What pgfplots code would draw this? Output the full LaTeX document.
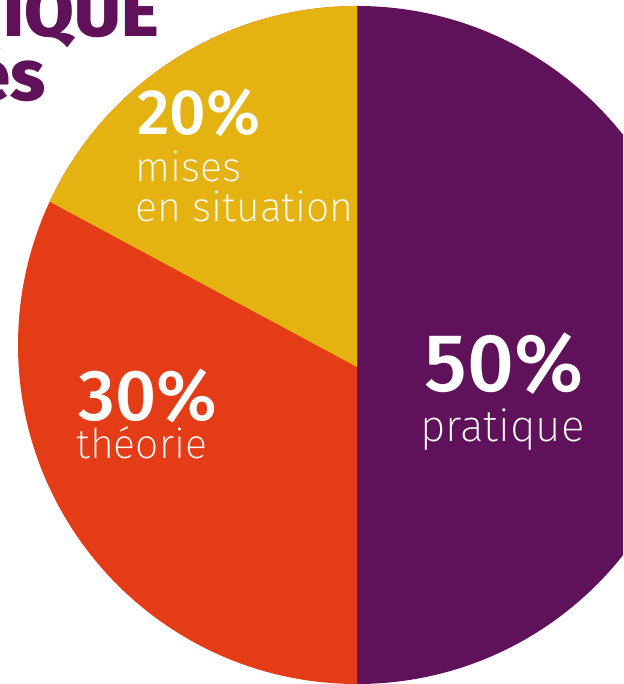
\documentclass[border=0pt]{standalone}
\usepackage{fontspec}
\setmainfont{Fira Sans}
\newfontfamily\lightfont{Fira Sans ExtraLight}
\newfontfamily\medfont{Fira Sans Medium}
\newfontfamily\boldfont{Fira Sans ExtraBold}
\usepackage{pgfplots}
\usepackage{pgfplotstable}
\pgfplotsset{compat=1.18}
\definecolor{cpurple}{RGB}{95,18,89}
\definecolor{corange}{RGB}{228,60,22}
\definecolor{cyellow}{RGB}{228,178,17}

% share (percent) and the angles of each sector as drawn
\pgfplotstableread{
part pct from to
pratique 50 90 -90
theorie 30 -90 -270
mises 20 155 90
}\pietable
\pgfplotstablegetelem{0}{from}\of\pietable \edef\pAa{\pgfplotsretval}
\pgfplotstablegetelem{0}{to}\of\pietable \edef\pAb{\pgfplotsretval}
\pgfplotstablegetelem{1}{from}\of\pietable \edef\pBa{\pgfplotsretval}
\pgfplotstablegetelem{1}{to}\of\pietable \edef\pBb{\pgfplotsretval}
\pgfplotstablegetelem{2}{from}\of\pietable \edef\pCa{\pgfplotsretval}
\pgfplotstablegetelem{2}{to}\of\pietable \edef\pCb{\pgfplotsretval}
\def\R{169.5pt}

\begin{document}
\begin{tikzpicture}
\begin{axis}[x=0.5pt, y=0.5pt, xmin=0, xmax=623, ymin=0, ymax=684,
  hide axis, clip=true]
% purple half
\fill[cpurple] (axis cs:357,339) -- ++(\pAa:\R) arc[start angle=\pAa, end angle=\pAb, radius=\R] -- cycle;
% orange (left half)
\fill[corange] (axis cs:357,339) -- ++(\pBa:\R) arc[start angle=\pBa, end angle=\pBb, radius=\R] -- cycle;
% yellow
\fill[cyellow] (axis cs:357,317) -- ([shift={(\pCa:\R)}]axis cs:357,339) arc[start angle=\pCa, end angle=\pCb, radius=\R] -- cycle;

\node[anchor=base west, inner sep=0pt, text=white, font=\medfont\fontsize{41}{41}\selectfont] at (axis cs:424,292) {50\%};
\node[anchor=base west, inner sep=0pt, text=white, font=\lightfont\fontsize{22}{22}\selectfont] at (axis cs:420,242) {pratique};
\node[anchor=base west, inner sep=0pt, text=white, font=\medfont\fontsize{36}{36}\selectfont] at (axis cs:78,263) {30\%};
\node[anchor=base west, inner sep=0pt, text=white, font=\lightfont\fontsize{20.5}{20.5}\selectfont] at (axis cs:76,225) {théorie};
\node[anchor=base west, inner sep=0pt, text=white, font=\medfont\fontsize{32}{32}\selectfont] at (axis cs:137,549) {20\%};
\node[anchor=base west, inner sep=0pt, text=white, font=\lightfont\fontsize{20.5}{20.5}\selectfont] at (axis cs:135,502) {mises};
\node[anchor=base west, inner sep=0pt, text=white, font=\lightfont\fontsize{20.5}{20.5}\selectfont] at (axis cs:135,462) {en situation};

\node[anchor=base east, inner sep=0pt, text=cpurple, font=\boldfont\fontsize{36}{36}\selectfont] at (axis cs:159,647) {PÉDAGOGIQUE};
\node[anchor=base east, inner sep=0pt, text=cpurple, font=\boldfont\fontsize{36}{36}\selectfont] at (axis cs:46,583) {variés};
\end{axis}
\pgfresetboundingbox
\useasboundingbox (current axis.south west) rectangle (current axis.north east);
\end{tikzpicture}
\end{document}
